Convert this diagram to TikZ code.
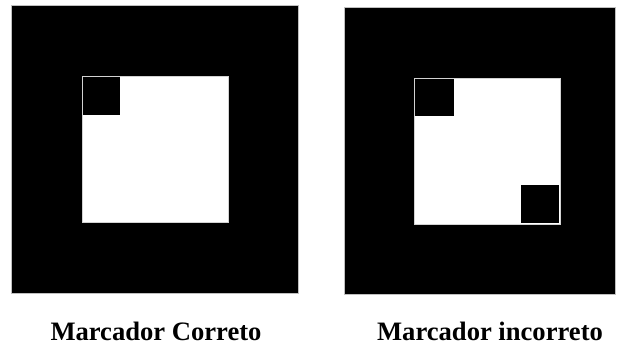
\documentclass[tikz,border=0pt]{standalone}
\usepackage{fontspec}
\setmainfont{Liberation Serif}
\tikzset{
  outerblk/.style={fill=black,draw=gray!50,line width=0.6pt},
  innerblk/.style={fill=white,draw=gray!35,line width=1pt},
  cellblk/.style={fill=black},
  lbl/.style={font=\fontsize{26.6}{30}\selectfont\bfseries,anchor=base,inner sep=0pt}
}
\begin{document}
\begin{tikzpicture}[x=1pt,y=-1pt]
  \useasboundingbox (0,0) rectangle (621,346);

  % marcador correto
  \filldraw[outerblk] (11,5) rectangle (298,293);
  \filldraw[innerblk] (82,76) rectangle (228,222);
  \fill[cellblk] (83,77) rectangle (120,115);

  % marcador incorreto
  \filldraw[outerblk] (344,7) rectangle (615,294);
  \filldraw[innerblk] (414,78) rectangle (560,224);
  \fill[cellblk] (415,79) rectangle (454,116);
  \fill[cellblk] (521,185) rectangle (559,223);

  \node[lbl] (lblok) at (156,340) {Marcador Correto};
  \node[lbl] (lblbad) at (490,340) {Marcador incorreto};
\end{tikzpicture}
\end{document}
